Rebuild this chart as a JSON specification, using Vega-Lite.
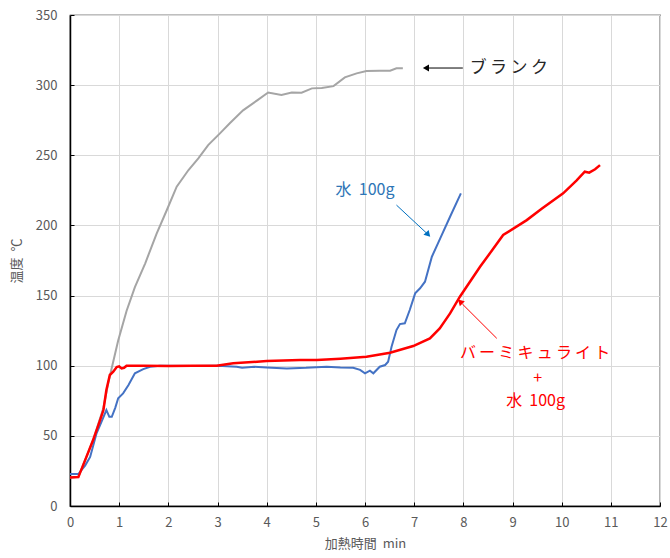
{
  "$schema": "https://vega.github.io/schema/vega-lite/v6.json",
  "width": 590,
  "height": 491,
  "autosize": {"type": "none"},
  "padding": {"left": 70, "top": 15, "right": 10, "bottom": 52},
  "background": "white",
  "config": {
    "font": "Noto Sans CJK JP",
    "view": {"stroke": "#000000", "strokeWidth": 1.2},
    "axis": {
      "grid": true,
      "gridColor": "#D9D9D9",
      "gridWidth": 1,
      "domainColor": "#000000",
      "domainWidth": 1.5,
      "tickColor": "#000000",
      "tickSize": -4,
      "labelFlush": false,
      "labelFont": "Noto Sans CJK JP",
      "labelFontSize": 13,
      "labelColor": "#595959",
      "titleFont": "Noto Sans CJK JP",
      "titleFontSize": 13,
      "titleFontWeight": "normal",
      "titleColor": "#595959"
    }
  },
  "datasets": {
    "curves": [
      {"series": "blank", "t": 0, "temp": 20.4},
      {"series": "blank", "t": 0.17, "temp": 20.8},
      {"series": "blank", "t": 0.47, "temp": 47},
      {"series": "blank", "t": 0.68, "temp": 70},
      {"series": "blank", "t": 0.78, "temp": 88},
      {"series": "blank", "t": 0.98, "temp": 118},
      {"series": "blank", "t": 1.15, "temp": 139},
      {"series": "blank", "t": 1.32, "temp": 156},
      {"series": "blank", "t": 1.53, "temp": 173},
      {"series": "blank", "t": 1.76, "temp": 194},
      {"series": "blank", "t": 1.97, "temp": 211},
      {"series": "blank", "t": 2.17, "temp": 227.6},
      {"series": "blank", "t": 2.41, "temp": 239.5},
      {"series": "blank", "t": 2.61, "temp": 247.8},
      {"series": "blank", "t": 2.81, "temp": 257.3},
      {"series": "blank", "t": 3.05, "temp": 265.6},
      {"series": "blank", "t": 3.25, "temp": 272.8},
      {"series": "blank", "t": 3.52, "temp": 282},
      {"series": "blank", "t": 3.8, "temp": 289},
      {"series": "blank", "t": 4.03, "temp": 294.8},
      {"series": "blank", "t": 4.3, "temp": 293},
      {"series": "blank", "t": 4.51, "temp": 294.8},
      {"series": "blank", "t": 4.71, "temp": 294.6},
      {"series": "blank", "t": 4.92, "temp": 297.7},
      {"series": "blank", "t": 5.12, "temp": 298},
      {"series": "blank", "t": 5.36, "temp": 299.3},
      {"series": "blank", "t": 5.59, "temp": 305.5},
      {"series": "blank", "t": 5.83, "temp": 308.4},
      {"series": "blank", "t": 6.03, "temp": 310},
      {"series": "blank", "t": 6.3, "temp": 310.3},
      {"series": "blank", "t": 6.51, "temp": 310.3},
      {"series": "blank", "t": 6.64, "temp": 312},
      {"series": "blank", "t": 6.77, "temp": 312},

      {"series": "water", "t": 0, "temp": 22.8},
      {"series": "water", "t": 0.17, "temp": 22.8},
      {"series": "water", "t": 0.31, "temp": 29},
      {"series": "water", "t": 0.41, "temp": 35},
      {"series": "water", "t": 0.54, "temp": 51.8},
      {"series": "water", "t": 0.64, "temp": 60},
      {"series": "water", "t": 0.74, "temp": 68.4},
      {"series": "water", "t": 0.8, "temp": 63.6},
      {"series": "water", "t": 0.85, "temp": 63.6},
      {"series": "water", "t": 0.92, "temp": 70},
      {"series": "water", "t": 0.98, "temp": 76.8},
      {"series": "water", "t": 1.08, "temp": 80.3},
      {"series": "water", "t": 1.19, "temp": 86.2},
      {"series": "water", "t": 1.32, "temp": 94.6},
      {"series": "water", "t": 1.49, "temp": 97.6},
      {"series": "water", "t": 1.63, "temp": 99.3},
      {"series": "water", "t": 1.83, "temp": 100},
      {"series": "water", "t": 2.5, "temp": 99.8},
      {"series": "water", "t": 3.0, "temp": 100},
      {"series": "water", "t": 3.39, "temp": 99.3},
      {"series": "water", "t": 3.5, "temp": 98.5},
      {"series": "water", "t": 3.75, "temp": 99.2},
      {"series": "water", "t": 4.0, "temp": 98.8},
      {"series": "water", "t": 4.41, "temp": 98.1},
      {"series": "water", "t": 4.8, "temp": 98.5},
      {"series": "water", "t": 5.22, "temp": 99.3},
      {"series": "water", "t": 5.5, "temp": 98.8},
      {"series": "water", "t": 5.76, "temp": 98.6},
      {"series": "water", "t": 5.9, "temp": 97},
      {"series": "water", "t": 6.0, "temp": 94.5},
      {"series": "water", "t": 6.1, "temp": 96.5},
      {"series": "water", "t": 6.17, "temp": 94.6},
      {"series": "water", "t": 6.3, "temp": 99.3},
      {"series": "water", "t": 6.41, "temp": 100.5},
      {"series": "water", "t": 6.47, "temp": 102.8},
      {"series": "water", "t": 6.54, "temp": 113.5},
      {"series": "water", "t": 6.64, "temp": 125.4},
      {"series": "water", "t": 6.71, "temp": 129.7},
      {"series": "water", "t": 6.81, "temp": 130.2},
      {"series": "water", "t": 6.91, "temp": 139.7},
      {"series": "water", "t": 7.02, "temp": 151.6},
      {"series": "water", "t": 7.12, "temp": 155.2},
      {"series": "water", "t": 7.22, "temp": 159.9},
      {"series": "water", "t": 7.36, "temp": 177.7},
      {"series": "water", "t": 7.53, "temp": 190.8},
      {"series": "water", "t": 7.73, "temp": 206.2},
      {"series": "water", "t": 7.95, "temp": 222.9},

      {"series": "verm", "t": 0, "temp": 20.4},
      {"series": "verm", "t": 0.17, "temp": 20.6},
      {"series": "verm", "t": 0.3, "temp": 32},
      {"series": "verm", "t": 0.47, "temp": 47},
      {"series": "verm", "t": 0.6, "temp": 60},
      {"series": "verm", "t": 0.68, "temp": 68.4},
      {"series": "verm", "t": 0.74, "temp": 82.7},
      {"series": "verm", "t": 0.81, "temp": 93.4},
      {"series": "verm", "t": 0.88, "temp": 95.7},
      {"series": "verm", "t": 0.95, "temp": 99},
      {"series": "verm", "t": 1.0, "temp": 99.5},
      {"series": "verm", "t": 1.05, "temp": 98.1},
      {"series": "verm", "t": 1.1, "temp": 98.5},
      {"series": "verm", "t": 1.15, "temp": 100},
      {"series": "verm", "t": 1.5, "temp": 100},
      {"series": "verm", "t": 2.0, "temp": 99.8},
      {"series": "verm", "t": 2.5, "temp": 100},
      {"series": "verm", "t": 2.98, "temp": 100},
      {"series": "verm", "t": 3.32, "temp": 101.7},
      {"series": "verm", "t": 4.0, "temp": 103.3},
      {"series": "verm", "t": 4.68, "temp": 104},
      {"series": "verm", "t": 5.02, "temp": 104},
      {"series": "verm", "t": 5.5, "temp": 105},
      {"series": "verm", "t": 6.03, "temp": 106.4},
      {"series": "verm", "t": 6.51, "temp": 109.3},
      {"series": "verm", "t": 6.98, "temp": 114},
      {"series": "verm", "t": 7.32, "temp": 119.5},
      {"series": "verm", "t": 7.52, "temp": 126.6},
      {"series": "verm", "t": 7.73, "temp": 137.3},
      {"series": "verm", "t": 7.93, "temp": 149.2},
      {"series": "verm", "t": 8.34, "temp": 170.5},
      {"series": "verm", "t": 8.6, "temp": 183},
      {"series": "verm", "t": 8.81, "temp": 193.2},
      {"series": "verm", "t": 9.29, "temp": 203.8},
      {"series": "verm", "t": 9.6, "temp": 212},
      {"series": "verm", "t": 10.03, "temp": 222.9},
      {"series": "verm", "t": 10.3, "temp": 232},
      {"series": "verm", "t": 10.47, "temp": 238.3},
      {"series": "verm", "t": 10.56, "temp": 237.6},
      {"series": "verm", "t": 10.68, "temp": 240},
      {"series": "verm", "t": 10.78, "temp": 243}
    ],
    "labels": [
      {"series": "blank", "t": 8.13, "temp": 312, "label": "ブ\u2009ラ\u2009ン\u2009ク"},
      {"series": "water", "t": 6.0, "temp": 225, "label": "水\u00a0\u00a0100g"},
      {"series": "verm", "t": 9.46, "temp": 109, "label": "バ\u2009ー\u2009ミ\u2009キ\u2009ュ\u2009ラ\u2009イ\u2009ト"},
      {"series": "verm", "t": 9.51, "temp": 91, "label": "+"},
      {"series": "verm", "t": 9.47, "temp": 75, "label": "水\u00a0\u00a0100g"}
    ],
    "arrows": [
      {"series": "blank", "t": 7.99, "temp": 312.2, "t2": 7.3, "temp2": 312.2},
      {"series": "water", "t": 6.64, "temp": 214.5, "t2": 7.25, "temp2": 194.6},
      {"series": "verm", "t": 8.68, "temp": 119.5, "t2": 7.98, "temp2": 144.0}
    ],
    "heads": [
      {"series": "blank", "t": 7.24, "temp": 312.2},
      {"series": "water", "t": 7.27, "temp": 194},
      {"series": "verm", "t": 7.95, "temp": 145.2}
    ]
  },
  "encoding": {
    "x": {
      "field": "t",
      "type": "quantitative",
      "scale": {"domain": [0, 12], "nice": false, "zero": false},
      "axis": {
        "values": [0, 1, 2, 3, 4, 5, 6, 7, 8, 9, 10, 11, 12],
        "title": "加熱時間\u00a0\u00a0min",
        "labelPadding": 14,
        "titlePadding": 8
      }
    },
    "y": {
      "field": "temp",
      "type": "quantitative",
      "scale": {"domain": [0, 350], "nice": false},
      "axis": {
        "values": [0, 50, 100, 150, 200, 250, 300, 350],
        "title": "温度\u00a0\u00a0℃",
        "labelPadding": 17,
        "titlePadding": 12
      }
    }
  },
  "layer": [
    {
      "data": {"name": "curves"},
      "transform": [{"filter": "datum.series === 'blank'"}],
      "mark": {"type": "line", "color": "#A5A5A5", "strokeWidth": 2}
    },
    {
      "data": {"name": "curves"},
      "transform": [{"filter": "datum.series === 'water'"}],
      "mark": {"type": "line", "color": "#4472C4", "strokeWidth": 2}
    },
    {
      "data": {"name": "curves"},
      "transform": [{"filter": "datum.series === 'verm'"}],
      "mark": {"type": "line", "color": "#FF0000", "strokeWidth": 2.5}
    },
    {
      "data": {"name": "arrows"},
      "transform": [{"filter": "datum.series === 'blank'"}],
      "mark": {"type": "rule", "color": "#000000", "strokeWidth": 1},
      "encoding": {"x2": {"field": "t2"}, "y2": {"field": "temp2"}}
    },
    {
      "data": {"name": "arrows"},
      "transform": [{"filter": "datum.series === 'water'"}],
      "mark": {"type": "rule", "color": "#0070C0", "strokeWidth": 1},
      "encoding": {"x2": {"field": "t2"}, "y2": {"field": "temp2"}}
    },
    {
      "data": {"name": "arrows"},
      "transform": [{"filter": "datum.series === 'verm'"}],
      "mark": {"type": "rule", "color": "#FF0000", "strokeWidth": 1},
      "encoding": {"x2": {"field": "t2"}, "y2": {"field": "temp2"}}
    },
    {
      "data": {"name": "heads"},
      "transform": [{"filter": "datum.series === 'blank'"}],
      "mark": {"type": "point", "shape": "triangle-left", "filled": true, "color": "#000000", "size": 50, "opacity": 1}
    },
    {
      "data": {"name": "heads"},
      "transform": [{"filter": "datum.series === 'water'"}],
      "mark": {"type": "point", "shape": "triangle", "angle": 137, "filled": true, "color": "#0070C0", "size": 50, "opacity": 1}
    },
    {
      "data": {"name": "heads"},
      "transform": [{"filter": "datum.series === 'verm'"}],
      "mark": {"type": "point", "shape": "triangle", "angle": 315, "filled": true, "color": "#FF0000", "size": 50, "opacity": 1}
    },
    {
      "data": {"name": "labels"},
      "transform": [{"filter": "datum.series === 'blank'"}],
      "mark": {"type": "text", "align": "left", "baseline": "middle", "fontSize": 17, "color": "#262626", "font": "Noto Sans CJK JP"},
      "encoding": {"text": {"field": "label"}}
    },
    {
      "data": {"name": "labels"},
      "transform": [{"filter": "datum.series === 'water'"}],
      "mark": {"type": "text", "align": "center", "baseline": "middle", "fontSize": 16, "color": "#2E75B6", "font": "Noto Sans CJK JP"},
      "encoding": {"text": {"field": "label"}}
    },
    {
      "data": {"name": "labels"},
      "transform": [{"filter": "datum.series === 'verm'"}],
      "mark": {"type": "text", "align": "center", "baseline": "middle", "fontSize": 16, "color": "#FF0000", "font": "Noto Sans CJK JP"},
      "encoding": {"text": {"field": "label"}}
    }
  ]
}
